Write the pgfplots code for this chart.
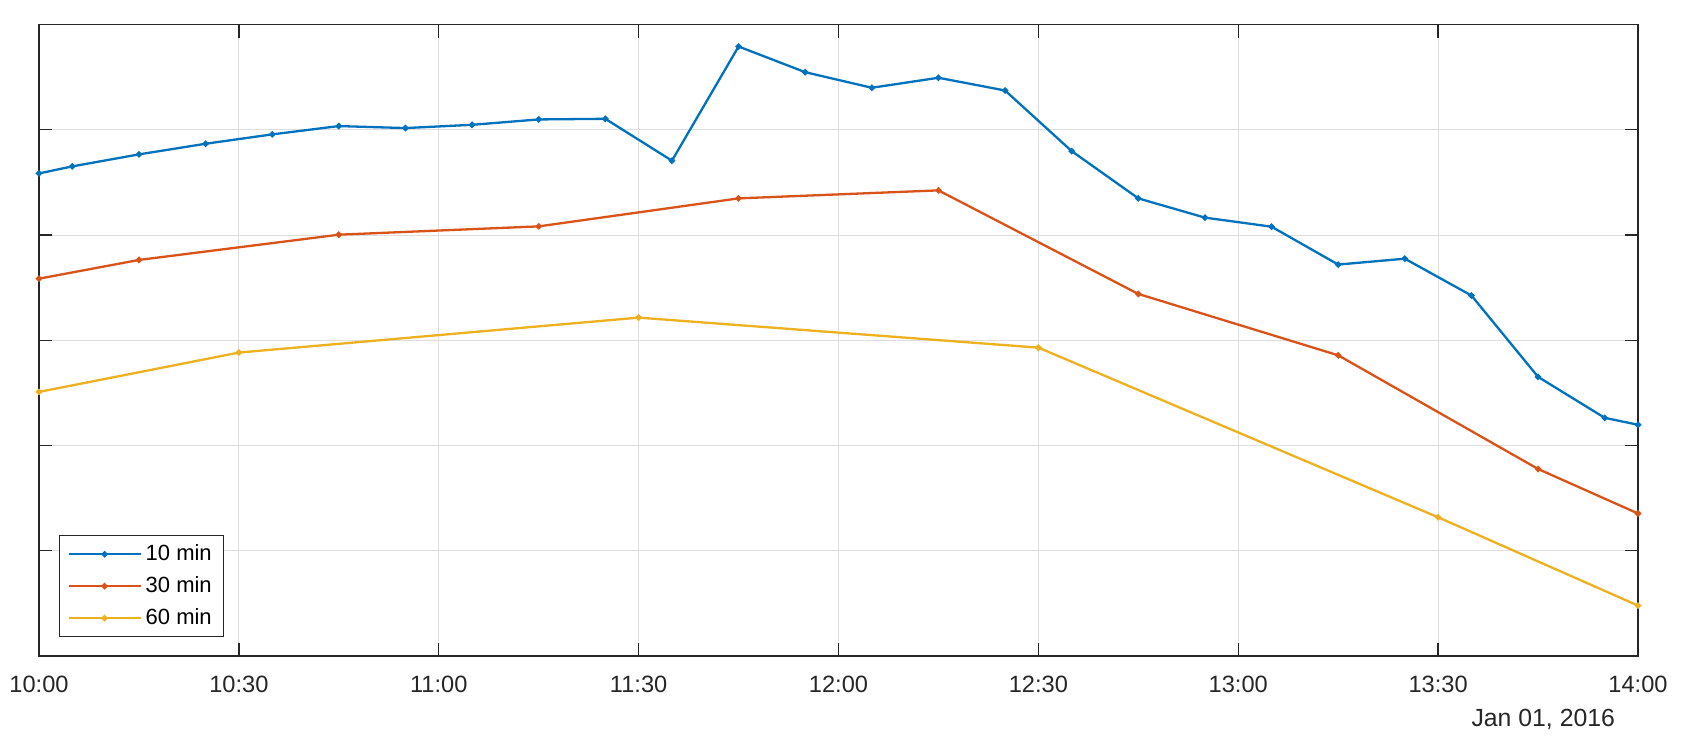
\documentclass[border=0pt]{standalone}
\usepackage{fontspec}
\setmainfont{Liberation Sans}
\usepackage{pgfplots}
\pgfplotsset{compat=1.18}

\definecolor{mblue}{rgb}{0,0.447,0.741}
\definecolor{mred}{rgb}{0.85,0.325,0.098}
\definecolor{myellow}{rgb}{0.929,0.694,0.125}
\definecolor{maxis}{gray}{0.15}
\definecolor{mgrid}{gray}{0.87}

\begin{document}
\begin{tikzpicture}
\begin{axis}[
    scale only axis,
    width=799.5pt, height=315.75pt,
    xmin=0, xmax=240, ymin=0, ymax=6,
    xtick={0,30,...,240},
    xticklabels={10:00,10:30,11:00,11:30,12:00,12:30,13:00,13:30,14:00},
    ytick={0,1,...,6},
    yticklabels={},
    tick align=inside,
    major tick length=6.5pt,
    grid=major,
    grid style={mgrid, line width=0.5pt},
    axis line style={maxis, line width=0.65pt},
    tick style={maxis, line width=0.65pt},
    tick label style={font=\fontsize{11.8}{14}\selectfont, text=maxis},
    xticklabel style={yshift=-6.4pt},
    /pgf/number format/assume math mode=true,
    legend style={at={(axis description cs:0,0)}, anchor=south west,
        xshift=10pt, yshift=9.5pt, draw=maxis, fill=white,
        font=\fontsize{11}{12}\selectfont,
        inner xsep=4pt, inner ysep=2.5pt, row sep=2.5pt,
        cells={anchor=west}},
    legend image code/.code={\draw[mark repeat=2,mark phase=2]
        plot coordinates {(0pt,0pt)(18pt,0pt)(36pt,0pt)};},
    every axis plot/.append style={line width=1.15pt, mark=*, mark size=0.95pt},
]

% 10 min
\addplot[color=mblue, mark options={fill=mblue}] coordinates {
    (0,4.585)(5,4.652)(15,4.766)(25,4.867)(35,4.956)(45,5.035)(55,5.016)
    (65,5.047)(75,5.098)(85,5.104)(95,4.706)(105,5.791)(115,5.547)(125,5.399)
    (135,5.494)(145,5.373)(155,4.797)(165,4.348)(175,4.165)(185,4.079)
    (195,3.719)(205,3.775)(215,3.425)(225,2.652)(235,2.263)(240,2.197)
};

% 30 min
\addplot[color=mred, mark options={fill=mred}] coordinates {
    (0,3.585)(15,3.763)(45,4.003)(75,4.082)(105,4.348)(135,4.424)
    (165,3.440)(195,2.857)(225,1.777)(240,1.354)
};

% 60 min
\addplot[color=myellow, mark options={fill=myellow}] coordinates {
    (0,2.509)(30,2.883)(90,3.215)(150,2.930)(210,1.318)(240,0.479)
};

\legend{10 min,30 min,60 min}
\end{axis}
\node[anchor=base east, font=\fontsize{12.4}{14}\selectfont, text=maxis]
    at ([xshift=-8pt,yshift=-35pt]current axis.south east) {Jan 01, 2016};
\path (current axis.south west) ++(-19.5pt,-44.5pt);
\path (current axis.north east) ++(23.5pt,12.25pt);
\end{tikzpicture}
\end{document}
